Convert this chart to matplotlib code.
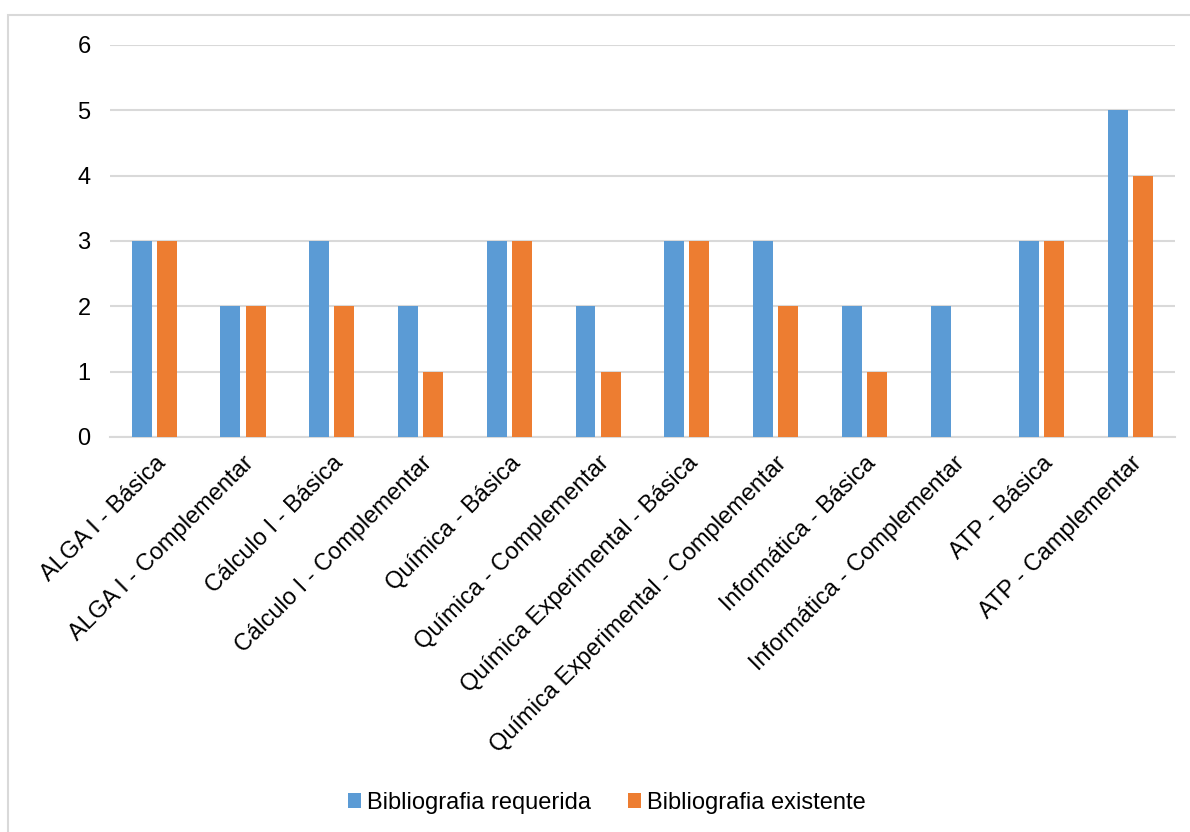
import matplotlib.pyplot as plt
import numpy as np
from matplotlib.patches import Rectangle

plt.rcParams['font.family'] = ['Liberation Sans', 'DejaVu Sans']

categorias = ['ALGA I - Básica', 'ALGA I - Complementar', 'Cálculo I - Básica',
              'Cálculo I - Complementar', 'Química - Básica', 'Química - Complementar',
              'Química Experimental - Básica', 'Química Experimental - Complementar',
              'Informática - Básica', 'Informática - Complementar', 'ATP - Básica',
              'ATP - Camplementar']
requerida = [3, 2, 3, 2, 3, 2, 3, 3, 2, 2, 3, 5]
existente = [3, 2, 2, 1, 3, 1, 3, 2, 1, 0, 3, 4]

azul = '#5B9BD5'
laranja = '#ED7D31'

fig = plt.figure(figsize=(11.9, 8.32), dpi=100)
ax = fig.add_axes([0.0924, 0.4748, 0.8950, 0.4712])

x = np.arange(len(categorias))
w = 0.225
ax.bar(x - 0.142, requerida, width=w, color=azul, label='Bibliografia requerida', zorder=3)
ax.bar(x + 0.142, existente, width=w, color=laranja, label='Bibliografia existente', zorder=3)

ax.set_xlim(-0.5, len(categorias) - 0.5)
ax.set_ylim(0, 6)
ax.set_yticks(range(0, 7))
ax.yaxis.grid(True, color='#D9D9D9', linewidth=1.5, zorder=0)
ax.tick_params(axis='y', length=0, pad=14, labelsize=17)
ax.tick_params(axis='x', length=0, pad=11, labelsize=17)
ax.set_xticks(x)
ax.set_xticklabels(categorias, rotation=45, ha='right', rotation_mode='anchor')
for s in ['top', 'right', 'left']:
    ax.spines[s].set_visible(False)
ax.spines['bottom'].set_color('#D9D9D9')
ax.spines['bottom'].set_linewidth(1.5)

ax.legend(loc='center', bbox_to_anchor=(0.51, 0.035), bbox_transform=fig.transFigure,
          ncol=2, frameon=False, fontsize=17, handlelength=0.55, handleheight=0.55,
          handletextpad=0.25, columnspacing=1.6)

# moldura do gráfico
fig.patches.append(Rectangle((8 / 1190, -0.01), 1.0, 1 - 15 / 832 + 0.01,
                             transform=fig.transFigure, fill=False,
                             edgecolor='#D9D9D9', linewidth=1.5))

fig.savefig('out.png', dpi=100)
